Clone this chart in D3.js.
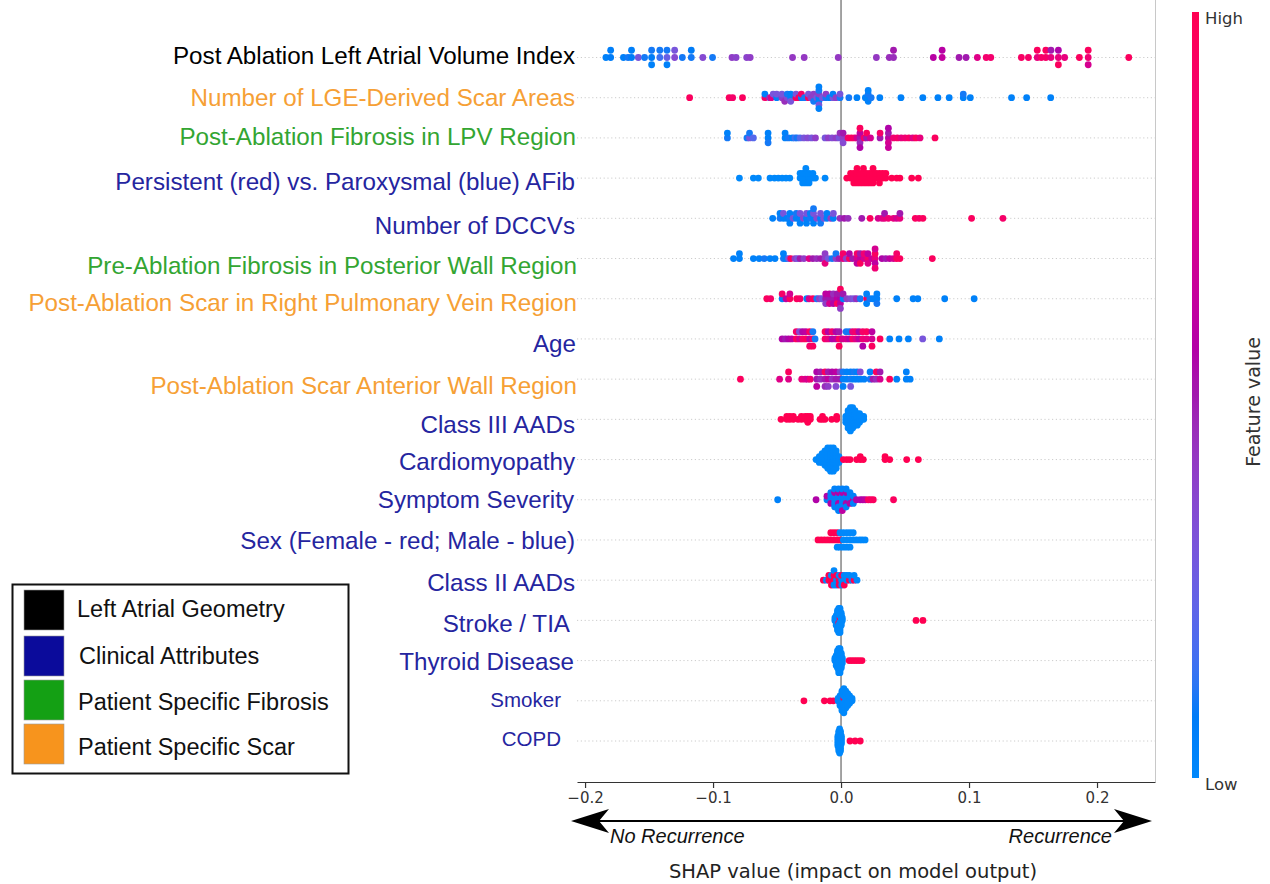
<!DOCTYPE html>
<html>
<head>
<meta charset="utf-8">
<script src="https://cdn.jsdelivr.net/npm/d3@7"></script>
<style>
  body { margin: 0; background: #fff; }
  svg { display: block; }
</style>
</head>
<body>
<svg id="chart" width="1270" height="884"></svg>
<script>
// Features, top (most important) to bottom
const features = [
  "Post Ablation Left Atrial Volume Index",
  "Number of LGE-Derived Scar Areas",
  "Post-Ablation Fibrosis in LPV Region",
  "Persistent (red) vs. Paroxysmal (blue) AFib",
  "Number of DCCVs",
  "Pre-Ablation Fibrosis in Posterior Wall Region",
  "Post-Ablation Scar in Right Pulmonary Vein Region",
  "Age",
  "Post-Ablation Scar Anterior Wall Region",
  "Class III AADs",
  "Cardiomyopathy",
  "Symptom Severity",
  "Sex (Female - red; Male - blue)",
  "Class II AADs",
  "Stroke / TIA",
  "Thyroid Disease",
  "Smoker",
  "COPD"
];

// Category of each feature (index into groupNames)
const featureGroup = [0, 3, 2, 1, 1, 2, 3, 1, 3, 1, 1, 1, 1, 1, 1, 1, 1, 1];
const groupNames = ["Left Atrial Geometry", "Clinical Attributes", "Patient Specific Fibrosis", "Patient Specific Scar"];

const xTicks = [-0.2, -0.1, 0.0, 0.1, 0.2];

// Per-patient points: [SHAP value, normalised feature value (0 low .. 1 high), count]
const laviPts = [[-0.1837,0.05],[-0.180,0.08],[-0.180,0.06],[-0.170,0.06],[-0.1664,0.1],[-0.1637,0.08],[-0.1637,0.06],[-0.1584,0.3],[-0.1535,0.1],[-0.148,0.08],[-0.148,0.1],[-0.148,0.05],[-0.1416,0.15],[-0.1416,0.1],[-0.136,0.25],[-0.136,0.1],[-0.136,0.05],[-0.130,0.35],[-0.130,0.3],[-0.124,0.1],[-0.117,0.1],[-0.117,0.08],[-0.108,0.35],[-0.1004,0.1],[-0.0852,0.4],[-0.082,0.38],[-0.0737,0.38],[-0.071,0.4],[-0.0379,0.42],[-0.0288,0.42],[-0.0022,0.42],[0.0276,0.42],[0.0377,0.45],[0.041,0.45],[0.041,0.5],[0.0721,0.58],[0.079,0.62],[0.079,0.58],[0.0922,0.5],[0.0977,0.5],[0.1065,0.75],[0.1134,0.88],[0.117,0.88],[0.1409,0.92],[0.1464,0.9],[0.1533,0.8],[0.1533,0.95],[0.1565,0.9],[0.160,0.9],[0.160,0.95],[0.164,0.8],[0.164,0.5],[0.1698,0.8],[0.1698,0.55],[0.1698,0.95],[0.1747,0.8],[0.1862,0.95],[0.1931,0.85],[0.1931,0.95],[0.1931,0.7],[0.2248,0.95]];

const lgePts = [[-0.1183,0.95],[-0.0874,0.95],[-0.0847,0.9],[-0.077,0.95],[-0.0595,0.9],[-0.0595,0.05],[-0.0558,0.45],[-0.0545,0.75],[-0.053,0.3],[-0.0503,0.05],[-0.0503,0.3],[-0.0462,0.4],[-0.0462,0.3],[-0.044,0.45],[-0.042,0.35],[-0.042,0.1],[-0.0393,0.05],[-0.0393,0.05],[-0.0393,0.3],[-0.0352,0.95],[-0.0352,0.3],[-0.033,0.9],[-0.031,0.05],[-0.031,0.9],[-0.0285,0.1],[-0.0255,0.95],[-0.0255,0.3],[-0.0235,0.4],[-0.0214,0.4],[-0.0214,0.1],[-0.019,0.3],[-0.0173,0.05],[-0.0173,0.4],[-0.0173,0.05],[-0.0173,0.1],[-0.0173,0.3],[-0.0173,0.05],[-0.0173,0.05],[-0.0145,0.3],[-0.0118,0.1],[-0.0118,0.4],[-0.009,0.05],[-0.0063,0.3],[-0.0063,0.05],[-0.004,0.4],[-0.0008,0.1],[-0.0008,0.3],[0.0061,0.1],[0.0124,0.05],[0.019,0.05],[0.0212,0.1],[0.0212,0.05],[0.0212,0.05],[0.0235,0.1],[0.0303,0.05],[0.0468,0.05],[0.0639,0.05],[0.0757,0.05],[0.0845,0.05],[0.0955,0.05],[0.0955,0.1],[0.101,0.05],[0.1332,0.05],[0.145,0.05],[0.1638,0.05]];

const lpvPts = [[-0.0888,0.1],[-0.0888,0.05],[-0.0735,0.1],[-0.0715,0.3],[-0.0715,0.1],[-0.0685,0.2],[-0.057,0.05],[-0.057,0.05],[-0.057,0.1],[-0.0437,0.05],[-0.0437,0.05],[-0.041,0.1],[-0.038,0.05],[-0.036,0.15],[-0.0344,0.1],[-0.032,0.2],[-0.029,0.3],[-0.026,0.35],[-0.023,0.3],[-0.020,0.4],[-0.0125,0.3],[-0.010,0.4],[-0.007,0.35],[-0.004,0.4],[-0.0015,0.3],[-0.0008,0.45],[0.0016,0.4],[0.0016,0.5],[0.0016,0.35],[0.0055,0.9],[0.008,0.95],[0.0105,0.9],[0.0125,0.7],[0.0148,0.5],[0.0148,0.6],[0.0148,0.45],[0.0148,0.95],[0.0148,0.55],[0.018,0.9],[0.020,0.5],[0.020,0.95],[0.023,0.7],[0.0305,0.5],[0.0305,0.9],[0.037,0.6],[0.037,0.5],[0.037,0.7],[0.037,0.55],[0.037,0.65],[0.041,0.85],[0.044,0.9],[0.047,0.8],[0.050,0.85],[0.053,0.9],[0.056,0.75],[0.0585,0.95],[0.0617,0.8],[0.0734,0.95]];

const afibPts = [[-0.0794,0],[-0.0685,0],[-0.0646,0],[-0.0555,0],[-0.052,0],[-0.049,0],[-0.046,0],[-0.043,0],[-0.040,0],[-0.032,0,2],[-0.030,0,3],[-0.0275,0,4],[-0.025,0,3],[-0.022,0,2],[-0.020,0],[-0.0125,0],[0.0045,1],[0.0075,1,2],[0.010,1,3],[0.0125,1,4],[0.015,1,3],[0.0175,1,4],[0.020,1,3],[0.0225,1,3],[0.025,1,4],[0.0275,1,2],[0.030,1,3],[0.0325,1,2],[0.035,1,2],[0.0396,1],[0.0435,1],[0.046,1],[0.0552,1],[0.0604,1]];

const dccvPts = [[-0.0534,0.05],[-0.0477,0.1],[-0.0477,0.05],[-0.045,0.05],[-0.045,0.3],[-0.0425,0.05],[-0.040,0.1],[-0.040,0.05],[-0.040,0.05],[-0.0375,0.3],[-0.035,0.05],[-0.035,0.1],[-0.032,0.05],[-0.032,0.3],[-0.032,0.05],[-0.0295,0.35],[-0.027,0.05],[-0.027,0.3],[-0.027,0.05],[-0.024,0.1],[-0.024,0.05],[-0.0215,0.05],[-0.0215,0.3],[-0.0215,0.05],[-0.0215,0.1],[-0.019,0.35],[-0.016,0.05],[-0.016,0.3],[-0.016,0.1],[-0.0135,0.3],[-0.011,0.05],[-0.011,0.05],[-0.008,0.4],[-0.006,0.05],[-0.006,0.3],[-0.0008,0.45],[0.0025,0.5],[0.0055,0.45],[0.0162,0.5],[0.0227,0.95],[0.029,0.7],[0.032,0.75],[0.034,0.8],[0.034,0.5],[0.037,0.85],[0.041,0.8],[0.0435,0.7],[0.046,0.8],[0.046,0.5],[0.058,0.95],[0.061,0.9],[0.064,0.95],[0.102,0.95],[0.1265,0.9]];

const pwPts = [[-0.084,0.05],[-0.0794,0.05],[-0.0794,0.05],[-0.0685,0.05],[-0.064,0.05],[-0.060,0.1],[-0.0555,0.05],[-0.0516,0.05],[-0.045,0.1],[-0.045,0.05],[-0.043,0.05],[-0.041,0.3],[-0.0393,0.95],[-0.036,0.4],[-0.034,0.3],[-0.032,0.5],[-0.029,0.4],[-0.025,0.75],[-0.022,0.5],[-0.019,0.45],[-0.016,0.5],[-0.0125,0.4],[-0.0125,0.4],[-0.0125,0.8],[-0.010,0.3],[-0.007,0.1],[-0.004,0.4],[-0.004,0.1],[-0.0015,0.5],[0.0016,0.8],[0.0016,0.9],[0.004,0.4],[0.0065,0.95],[0.0065,0.55],[0.009,0.5],[0.0125,0.7],[0.0125,0.9],[0.0125,0.6],[0.015,0.6],[0.015,0.5],[0.015,0.95],[0.018,0.7],[0.018,0.85],[0.021,0.9],[0.021,0.6],[0.021,0.75],[0.024,0.65],[0.0266,0.8],[0.0266,0.95],[0.0266,0.6],[0.0266,0.7],[0.0266,0.85],[0.032,0.55],[0.035,0.5],[0.038,0.6],[0.041,0.7],[0.0435,0.95],[0.0435,0.9],[0.046,0.95],[0.0713,0.95]];

const rpvPts = [[-0.058,0.95],[-0.055,0.9],[-0.046,0.05],[-0.046,0.9],[-0.043,0.6],[-0.040,0.95],[-0.040,0.7],[-0.0346,0.95],[-0.032,0.9],[-0.0268,0.05],[-0.025,0.7],[-0.022,0.95],[-0.019,0.1],[-0.017,0.4],[-0.015,0.3],[-0.012,0.5],[-0.012,0.6],[-0.012,0.4],[-0.009,0.5],[-0.009,0.6],[-0.009,0.7],[-0.006,0.5],[-0.006,0.45],[-0.006,0.55],[-0.003,0.6],[-0.003,0.5],[-0.003,0.95],[-0.0005,0.55],[-0.0005,0.5],[-0.0005,0.6],[-0.0005,0.95],[-0.0005,0.4],[0.0016,0.05],[0.0016,0.5],[0.0045,0.4],[0.0075,0.35],[0.010,0.3],[0.012,0.45],[0.015,0.1],[0.020,0.95],[0.020,0.05],[0.020,0.05],[0.0225,0.1],[0.025,0.05],[0.028,0.05],[0.028,0.05],[0.028,0.1],[0.0435,0.05],[0.0563,0.05],[0.060,0.05],[0.081,0.05],[0.104,0.05]];

const agePts = [[-0.046,0.55],[-0.0435,0.5],[-0.041,0.55],[-0.0385,0.6],[-0.035,0.95],[-0.035,0.9],[-0.0325,0.7],[-0.0325,0.35],[-0.030,0.9],[-0.030,0.55],[-0.0275,0.95],[-0.0275,0.6],[-0.0245,0.6],[-0.0245,0.95],[-0.0245,0.9],[-0.022,0.95],[-0.022,0.1],[-0.022,0.95],[-0.0203,0.1],[-0.0125,0.9],[-0.0125,0.95],[-0.010,0.8],[-0.010,0.55],[-0.007,0.55],[-0.007,0.9],[-0.004,0.6],[-0.004,0.55],[-0.0015,0.95],[-0.0015,0.5],[-0.0015,0.95],[0.001,0.7],[0.004,0.7],[0.004,0.1],[0.0065,0.6],[0.0065,0.1],[0.009,0.9],[0.009,0.8],[0.0115,0.75],[0.0115,0.9],[0.014,0.6],[0.014,0.55],[0.017,0.85],[0.017,0.9],[0.017,0.55],[0.020,0.8],[0.020,0.95],[0.0242,0.7],[0.0242,0.6],[0.0242,0.95],[0.0305,0.95],[0.038,0.05],[0.0453,0.05],[0.0526,0.05],[0.0638,0.3],[0.0768,0.05]];

const awPts = [[-0.0786,0.95],[-0.048,0.75],[-0.041,0.75],[-0.041,0.95],[-0.0307,0.8],[-0.028,0.75],[-0.026,0.7],[-0.024,0.85],[-0.019,0.5],[-0.019,0.55],[-0.019,0.6],[-0.016,0.45],[-0.016,0.5],[-0.0125,0.5],[-0.0125,0.95],[-0.0125,0.45],[-0.010,0.6],[-0.010,0.5],[-0.010,0.4],[-0.007,0.45],[-0.007,0.55],[-0.004,0.5],[-0.004,0.6],[-0.004,0.35],[-0.0008,0.5],[-0.0008,0.4],[0.0016,0.05],[0.0016,0.1],[0.0016,0.05],[0.0045,0.05],[0.0045,0.05],[0.0075,0.1],[0.0075,0.05],[0.0075,0.3],[0.010,0.05],[0.010,0.1],[0.0125,0.05],[0.0125,0.05],[0.015,0.05],[0.015,0.35],[0.018,0.05],[0.0227,0.1],[0.0227,0.05],[0.025,0.5],[0.0275,0.45],[0.0275,0.95],[0.0305,0.7],[0.0305,0.5],[0.038,0.95],[0.0435,0.05],[0.051,0.05],[0.051,0.05],[0.054,0.05]];

const aad3Pts = [[-0.0469,1],[-0.0424,1,2],[-0.040,1,2],[-0.0373,1,2],[-0.0336,1],[-0.031,1,2],[-0.028,1,2],[-0.026,1,3],[-0.024,1,2],[-0.0164,1],[-0.0145,1,2],[-0.0125,1],[-0.0073,1],[-0.0034,1,2],[0.0037,0,3],[0.0055,0,7],[0.0073,0,9],[0.0091,0,8],[0.0109,0,6],[0.0127,0,5],[0.0145,0,4],[0.0163,0,2],[0.0177,0,2]];

const cardioPts = [[-0.0195,0],[-0.017,0,3],[-0.0148,0,4],[-0.0126,0,6],[-0.0104,0,8],[-0.0082,0,9],[-0.006,0,9],[-0.0038,0,7],[-0.0016,0,3],[0.0018,1],[0.0045,1],[0.007,1],[0.0122,1],[0.015,1,2],[0.0174,1],[0.0344,1,2],[0.038,1],[0.0513,1],[0.0604,1]];

const symptomPts = [[-0.0495,0.05],[-0.0195,0.55],[-0.011,0.05],[-0.011,0.55],[-0.008,0.05,2],[-0.008,0.55],[-0.008,0.05],[-0.005,0.05,3],[-0.005,0.55],[-0.005,0.05,2],[-0.002,0.05,2],[-0.002,0.55,2],[-0.002,0.05,3],[0.001,0.05,3],[0.001,0.55],[0.001,0.05,2],[0.001,0.6],[0.004,0.05,2],[0.004,0.55,2],[0.004,0.05,2],[0.007,0.05,2],[0.007,0.55],[0.007,0.05],[0.0096,0.55],[0.0096,0.05,2],[0.012,0.55],[0.015,0.55],[0.017,0.55],[0.019,0.6],[0.0213,0.95],[0.0232,0.9],[0.0252,0.95],[0.041,0.95]];

const sexPts = [[-0.018,1],[-0.0155,1],[-0.013,1],[-0.0105,1],[-0.008,1,2],[-0.0055,1,2],[-0.003,1,2],[-0.003,0],[-0.0008,1],[-0.0008,0,2],[0.0018,0,3],[0.0045,0,3],[0.007,0,3],[0.0095,0,2],[0.012,0],[0.0145,0],[0.0165,0],[0.0188,0]];

const aad2Pts = [[-0.0138,1],[-0.0115,0],[-0.0095,1,2],[-0.0075,1],[-0.0075,0],[-0.0075,1],[-0.0055,1,2],[-0.0055,0,2],[-0.0035,0],[-0.0035,1],[-0.0035,0],[-0.0015,1],[-0.0015,0],[-0.0015,1],[0.0005,0],[0.0005,1],[0.0005,0],[0.0025,0,2],[0.0025,1],[0.0045,0,2],[0.0065,1],[0.0065,0],[0.0085,0],[0.0102,1],[0.0102,0],[0.0125,0]];

const strokePts = [[-0.0048,0,2],[-0.0038,0,5],[-0.0028,0,9],[-0.0018,0,2],[-0.0018,1],[-0.0018,0,8],[-0.0008,0],[-0.0008,1],[-0.0008,0,9],[0.0002,0,6],[0.0010,0,2],[0.0586,1],[0.064,1]];

const thyroidPts = [[-0.0048,0,2],[-0.0038,0,5],[-0.0028,0,8],[-0.0018,0,11],[-0.0008,0,11],[0.0002,0,7],[0.0010,0,3],[0.0063,1],[0.0083,1],[0.0103,1],[0.0123,1],[0.0143,1],[0.0164,1]];

const smokerPts = [[-0.029,1],[-0.013,1],[-0.0086,1],[-0.006,1],[-0.0023,0,2],[-0.0008,0,5],[0.0007,0,9],[0.0022,0],[0.0022,1],[0.0022,0,9],[0.0037,0,8],[0.0052,0,6],[0.0067,0,4],[0.0086,0,2]];

const copdPts = [[-0.0025,0,5],[-0.0018,0,9],[-0.0011,0,11],[-0.0004,0,9],[0.0003,0,4],[0.007,1],[0.011,1],[0.015,1]];

const rows = [laviPts, lgePts, lpvPts, afibPts, dccvPts, pwPts, rpvPts, agePts, awPts,
              aad3Pts, cardioPts, symptomPts, sexPts, aad2Pts, strokePts, thyroidPts, smokerPts, copdPts];

// ---------- styling ----------
const groupLabelColor = ["#000000", "#25259f", "#33a532", "#f6a035"];
const groupSwatchColor = ["#000000", "#0b0b9b", "#14a014", "#f7941d"];
const labelRight = [575, 575, 576, 575, 575, 577, 577, 576, 577, 575, 575, 574, 575, 575, 570, 574, 561, 561];
const labelDy = [-2.5, -0.7, -1, 3, 6.7, 6.5, 3.3, 5, 6, 4.7, 1.5, -0.7, 1, 2, 3, 0.5, -1.7, -3];
const labelSize = [24.2, 24.2, 24.2, 24.2, 24.2, 24.2, 24.2, 24.2, 24.2, 24.2, 24.2, 24.2, 24.2, 24.2, 24.2, 24.2, 20.5, 20.5];

// SHAP red/blue colour map: linear path in CIE LCh
function shapColor(t) {
  t = Math.max(0, Math.min(1, t));
  const l = t < 0.5 ? 54 + (40 - 54) * (t / 0.5) : 40 + (54 - 40) * ((t - 0.5) / 0.5);
  const c = 70 + 20 * t;
  const h = 266.93 + (380.32 - 266.93) * t;
  return d3.hcl(h % 360, c, l).formatHex();
}

const svg = d3.select("#chart");
const x = d3.scaleLinear().domain([-0.2063, 0.2453]).range([577, 1155]);
const y = d3.scalePoint().domain(features).range([57.5, 741]);
const rowStep = y.step();
const axisY = 782;

// row guide lines
svg.append("g").selectAll("line").data(features).join("line")
  .attr("x1", x.range()[0]).attr("x2", x.range()[1])
  .attr("y1", d => y(d)).attr("y2", d => y(d))
  .attr("stroke", "#cccccc").attr("stroke-width", 1)
  .attr("stroke-dasharray", "1.2,2.6");

// right frame line
svg.append("line").attr("x1", 1155.5).attr("x2", 1155.5).attr("y1", 0).attr("y2", axisY)
  .attr("stroke", "#c8c8c8").attr("stroke-width", 1);

// zero line
svg.append("line").attr("x1", x(0)).attr("x2", x(0)).attr("y1", 0).attr("y2", axisY)
  .attr("stroke", "#999999").attr("stroke-width", 1.8);

// beeswarm layout (binned stacking, as in the shap summary plot)
function swarmOffsets(vals) {
  const n = vals.length;
  const mn = d3.min(vals), mx = d3.max(vals);
  const nbins = 100;
  const quant = vals.map(v => Math.round(nbins * (v - mn) / (mx - mn + 1e-8)));
  const order = d3.range(n).sort((a, b) => quant[a] - quant[b] || a - b);
  const ys = new Array(n).fill(0);
  let layer = 0, last = -1;
  for (const i of order) {
    if (quant[i] !== last) layer = 0;
    ys[i] = Math.ceil(layer / 2) * ((layer % 2) * 2 - 1);
    layer++;
    last = quant[i];
  }
  const m = d3.max(ys) + 1;
  return ys.map(v => v * 0.9 * (0.4 / m));
}

const dots = svg.append("g");
rows.forEach((pts, r) => {
  const pts1 = [];
  pts.forEach(p => { const n = p[2] || 1; for (let k = 0; k < n; k++) pts1.push({ s: p[0], f: p[1] }); });
  const off = swarmOffsets(pts1.map(d => d.s));
  pts1.forEach((d, i) => { d.dy = off[i]; });
  dots.append("g").selectAll("circle").data(pts1).join("circle")
    .attr("cx", d => x(d.s))
    .attr("cy", d => y(features[r]) - d.dy * rowStep)
    .attr("r", 3.4)
    .attr("fill", d => shapColor(d.f));
});

// x axis
const axis = svg.append("g").attr("transform", `translate(0,${axisY})`)
  .call(d3.axisBottom(x).tickValues(xTicks).tickFormat(d3.format(".1f")).tickSize(6).tickSizeOuter(0).tickPadding(4));
axis.select(".domain").attr("stroke", "#333").attr("stroke-width", 1.2);
axis.selectAll(".tick line").attr("stroke", "#333").attr("stroke-width", 1.2);
axis.selectAll(".tick text").attr("fill", "#333").style("font-family", "DejaVu Sans").style("font-size", "15px");

// feature labels
svg.append("g").selectAll("text").data(features).join("text")
  .attr("x", (d, i) => labelRight[i])
  .attr("y", (d, i) => y(d) + labelDy[i])
  .attr("text-anchor", "end")
  .attr("dominant-baseline", "central")
  .attr("fill", (d, i) => groupLabelColor[featureGroup[i]])
  .style("font-family", "'Liberation Sans', Arial, sans-serif")
  .style("font-size", (d, i) => labelSize[i] + "px")
  .text(d => d);

// direction arrow
const arrowY = 821;
svg.append("line").attr("x1", 590).attr("x2", 1135).attr("y1", arrowY).attr("y2", arrowY)
  .attr("stroke", "#000").attr("stroke-width", 2);
svg.append("path")
  .attr("d", `M571,${arrowY} L609,${arrowY - 12} L599,${arrowY} L609,${arrowY + 12} Z`)
  .attr("fill", "#000");
svg.append("path")
  .attr("d", `M1152,${arrowY} L1114,${arrowY - 12} L1124,${arrowY} L1114,${arrowY + 12} Z`)
  .attr("fill", "#000");
svg.append("text").attr("x", 610).attr("y", 843)
  .style("font-family", "'Liberation Sans', Arial, sans-serif").style("font-size", "20px").style("font-style", "italic")
  .attr("fill", "#111").text("No Recurrence");
svg.append("text").attr("x", 1112).attr("y", 843).attr("text-anchor", "end")
  .style("font-family", "'Liberation Sans', Arial, sans-serif").style("font-size", "20px").style("font-style", "italic")
  .attr("fill", "#111").text("Recurrence");

svg.append("text").attr("x", 853).attr("y", 878).attr("text-anchor", "middle")
  .style("font-family", "DejaVu Sans").style("font-size", "19.5px").attr("fill", "#222")
  .text("SHAP value (impact on model output)");

// colour bar
const defs = svg.append("defs");
const grad = defs.append("linearGradient").attr("id", "cbar")
  .attr("x1", 0).attr("y1", 1).attr("x2", 0).attr("y2", 0);
grad.selectAll("stop").data(d3.range(0, 1.0001, 0.02)).join("stop")
  .attr("offset", d => d).attr("stop-color", d => shapColor(d));
svg.append("rect").attr("x", 1192).attr("y", 12).attr("width", 7).attr("height", 766)
  .attr("fill", "url(#cbar)");
svg.append("text").attr("x", 1205).attr("y", 18).attr("dominant-baseline", "central")
  .style("font-family", "DejaVu Sans").style("font-size", "16.5px").attr("fill", "#333").text("High");
svg.append("text").attr("x", 1205).attr("y", 784).attr("dominant-baseline", "central")
  .style("font-family", "DejaVu Sans").style("font-size", "16.5px").attr("fill", "#333").text("Low");
svg.append("text").attr("transform", "translate(1253,402) rotate(-90)")
  .attr("text-anchor", "middle").attr("dominant-baseline", "central")
  .style("font-family", "DejaVu Sans").style("font-size", "19px").attr("fill", "#333").text("Feature value");

// category legend
const lg = svg.append("g");
lg.append("rect").attr("x", 12.5).attr("y", 584.5).attr("width", 336).attr("height", 189)
  .attr("fill", "#fff").attr("stroke", "#111").attr("stroke-width", 2);
const swY = [590, 636, 680, 724];
const txY = [609, 656, 702, 747];
const txX = [77, 79, 78, 78];
lg.selectAll("rect.sw").data(groupNames).join("rect").attr("class", "sw")
  .attr("x", 24).attr("y", (d, i) => swY[i]).attr("width", 40).attr("height", 40)
  .attr("fill", (d, i) => groupSwatchColor[i]).attr("stroke", "#999").attr("stroke-width", 0.6);
lg.selectAll("text").data(groupNames).join("text")
  .attr("x", (d, i) => txX[i]).attr("y", (d, i) => txY[i]).attr("dominant-baseline", "central")
  .style("font-family", "'Liberation Sans', Arial, sans-serif").style("font-size", "23.5px")
  .attr("fill", "#111").text(d => d);
</script>
</body>
</html>
